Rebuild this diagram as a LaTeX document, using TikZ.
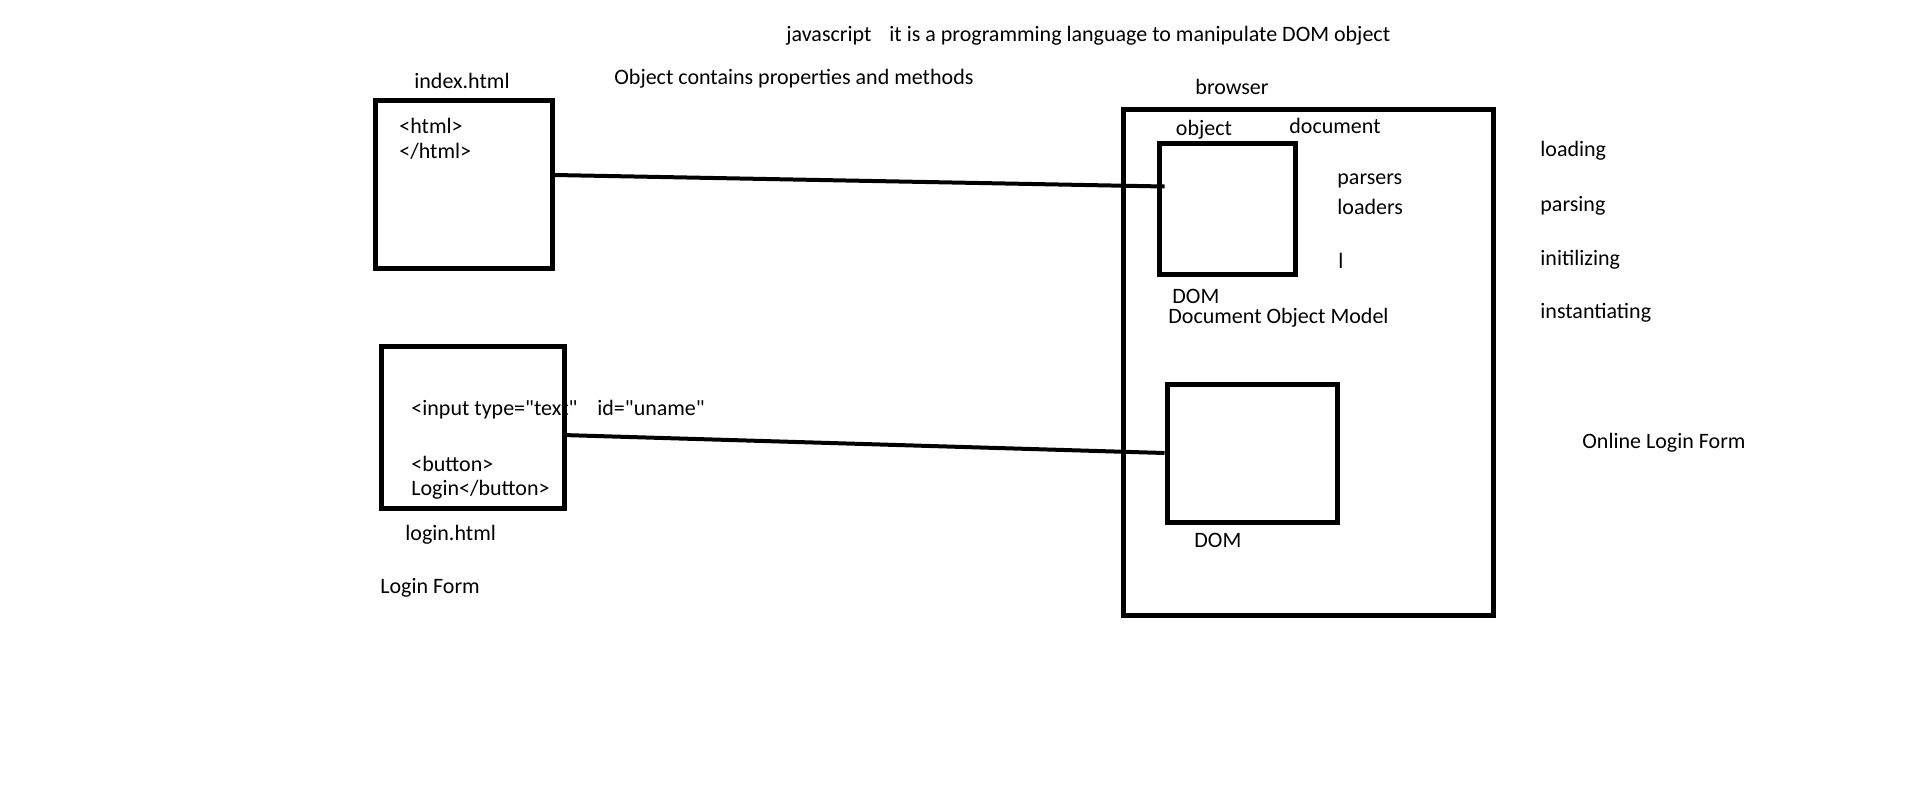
\documentclass[tikz,border=0pt]{standalone}
\usepackage{fontspec}
\setmainfont{Carlito}
\newfontfamily\plainfont{Carlito}
\usetikzlibrary{positioning}
\newcommand{\dq}{{\plainfont"}}

\begin{document}
\begin{tikzpicture}[x=0.5pt,y=-0.5pt,
  box/.style={draw,line width=2.5pt,inner sep=0pt},
  lbl/.style={inner sep=0pt,anchor=west,yshift=-1.5pt,font=\fontsize{11}{13}\selectfont},
  conn/.style={line width=2pt}]
\useasboundingbox (0,0) rectangle (1914,809);
% html files
\node[box,minimum width=88.5pt,minimum height=84pt] (index) at (463.5,184) {};
\node[box,minimum width=91.5pt,minimum height=81pt] (login) at (472.5,427) {};
% browser
\node[box,minimum width=185pt,minimum height=253pt] (browser) at (1308,362) {};
\node[box,minimum width=68pt,minimum height=65.5pt] (obj) at (1227,208.5) {};
\node[box,minimum width=85pt,minimum height=69pt] (dom) at (1252,453) {};
\draw[conn] ([yshift=4.5pt]index.east) -- ([shift={(4pt,11pt)}]obj.west);
\draw[conn] ([shift={(-2pt,-4pt)}]login.east) -- (dom.west);
% top notes
\node[lbl] (js) at (786,33) {javascript};
\node[lbl] (jsdef) at (889,33) {it is a programming language to manipulate DOM object};
\node[lbl] (objdef) at (614,76) {Object contains properties and methods};
% left side
\node[lbl,anchor=center] (indexname) at (462,78) {index.html};
\node[lbl] (htmlopen) at (399,123) {<html>};
\node[lbl] (htmlclose) at (399,148) {</html>};
\node[lbl] (input) at (411,407) {<input type=\dq text\dq};
\node[lbl] (uname) at (597,405) {id=\dq uname\dq};
\node[lbl] (btn) at (411,461) {<button>};
\node[lbl] (btnclose) at (411,487) {Login</button>};
\node[lbl] (loginname) at (405,532) {login.html};
\node[lbl] (loginform) at (380,585) {Login Form};
% browser texts
\node[lbl,anchor=center] (browsername) at (1232,84) {browser};
\node[lbl,anchor=center] (objname) at (1204,127) {object};
\node[lbl,anchor=center] (docname) at (1335,123) {document};
\node[lbl] (parsers) at (1337,178) {parsers};
\node[lbl] (loaders) at (1337,204) {loaders};
\node[lbl] (bar) at (1338,258) {l};
\node[lbl] (domname) at (1172,293) {DOM};
\node[lbl] (domfull) at (1168,315) {Document Object Model};
\node[lbl] (dom2name) at (1194,537) {DOM};
% right side
\node[lbl] (loading) at (1540,148) {loading};
\node[lbl] (parsing) at (1540,203) {parsing};
\node[lbl] (init) at (1540,257) {initilizing};
\node[lbl] (inst) at (1540,310) {instantiating};
\node[lbl] (online) at (1582,440) {Online Login Form};
\end{tikzpicture}
\end{document}
